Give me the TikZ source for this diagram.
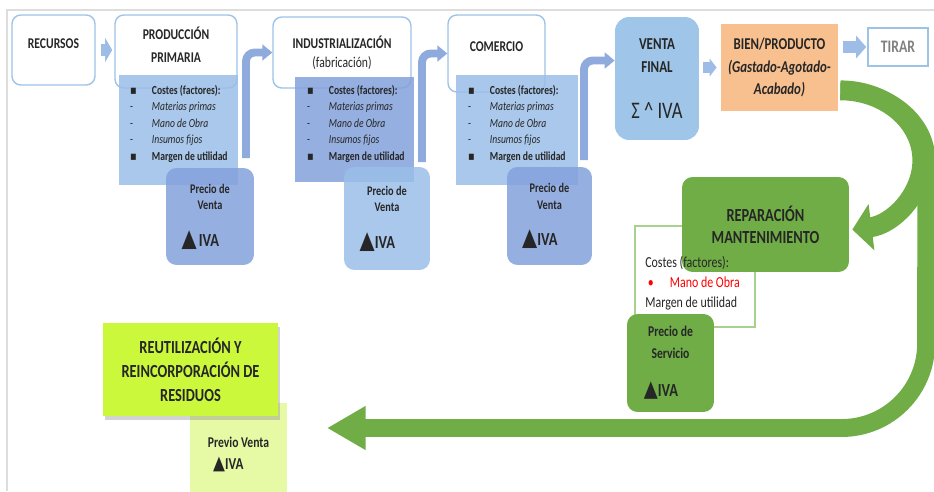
\documentclass[tikz,border=0pt]{standalone}
\usepackage{fontspec}
\setmainfont{Carlito}[FakeStretch=0.78]
\newfontfamily\symfont{DejaVu Sans}[FakeStretch=0.8]
\usepackage{tikz}
\usetikzlibrary{arrows.meta,calc,shadows}
\definecolor{HdrBorder}{HTML}{9DC3E6}
\definecolor{BlueLight}{HTML}{9BBEE7}
\definecolor{BlueMid}{HTML}{83A1DC}
\definecolor{BlueArrow}{HTML}{8FAADC}
\definecolor{BlueSmall}{HTML}{9DBCE6}
\definecolor{VentaFill}{HTML}{9FC5E8}
\definecolor{BienFill}{HTML}{F8C08F}
\definecolor{GreenMain}{HTML}{70AD47}
\definecolor{GreenSoft}{HTML}{A9D18E}
\definecolor{LimeStrong}{HTML}{CCF83C}
\definecolor{LimeSoft}{HTML}{E6FAA5}
\definecolor{TextDark}{HTML}{262626}
\definecolor{FrameGray}{HTML}{DDDDDD}
\newcommand{\ivamark}[1]{{\symfont\fontsize{#1}{#1}\selectfont ▲}}
\newcommand{\sqmark}{{\symfont ▪}}
\newcommand{\costitems}{%
    \makebox[12.5pt][l]{\sqmark}\textbf{Costes (factores):}\\
    \makebox[12.5pt][l]{-}\textit{Materias primas}\\
    \makebox[12.5pt][l]{-}\textit{Mano de Obra}\\
    \makebox[12.5pt][l]{-}\textit{Insumos fijos}\\
    \makebox[12.5pt][l]{\sqmark}\textbf{Margen de utilidad}}

\begin{document}
\begin{tikzpicture}[
        x=0.02cm, y=0.02cm,
        font=\fontsize{8.5}{13}\selectfont\bfseries,
        text=TextDark,
        header/.style={
            draw=HdrBorder,
            line width=0.8pt,
            fill=white,
            rounded corners=5pt,
            align=center,
            inner sep=2pt
        },
        costbox/.style={fill=#1, fill opacity=0.85, inner sep=0pt},
        costtext/.style={anchor=north west, inner sep=0pt, align=left,
            font=\fontsize{7}{9.4}\selectfont\mdseries},
        precio/.style={fill=#1, fill opacity=0.85, text opacity=1,
            rounded corners=6pt, align=center,
            font=\fontsize{7.5}{9.6}\selectfont\bfseries},
        blockarrow/.style={draw=BlueSmall, line width=#1},
        bentarrow/.style={draw=BlueArrow, line width=4.5pt, rounded corners=5pt,
            -{Triangle[length=5.7pt, width=9pt]}},
        greenband/.style={draw=GreenMain, line width=#1}
    ]
    \useasboundingbox (0,0) rectangle (934,-491);
    \draw[FrameGray, line width=0.6pt] (7,-491) |- (934,-10);

    % header boxes
    \node[header, minimum width=1.66cm, minimum height=1.40cm, text depth=6.8pt] (recursos) at (53.5,-50) {RECURSOS};
    \node[header, minimum width=2.44cm, minimum height=1.46cm, text depth=7.4pt] (prodprim) at (176,-51.5)
        {PRODUCCIÓN\\PRIMARIA};
    \node[header, minimum width=2.76cm, minimum height=1.42cm, font=\fontsize{8.5}{10.8}\selectfont\bfseries] (indus) at (342,-52.5)
        {INDUSTRIALIZACIÓN\\{\mdseries(fabricación)}};
    \node[header, minimum width=1.94cm, minimum height=1.54cm, text depth=7.4pt] (comercio) at (496.5,-53.5) {COMERCIO};

    % cost boxes
    \node[costbox=BlueLight, minimum width=2.38cm, minimum height=2.20cm] (cost1) at (178.5,-130) {};
    \node[costbox=BlueMid, minimum width=2.38cm, minimum height=2.10cm] (cost2) at (354.5,-129.5) {};
    \node[costbox=BlueLight, minimum width=2.44cm, minimum height=2.20cm] (cost3) at (517,-130) {};
    \node[costtext] (list1) at ($(cost1.north west)+(11,-10)$) {\costitems};
    \node[costtext] (list2) at ($(cost2.north west)+(12,-8)$) {\costitems};
    \node[costtext] (list3) at ($(cost3.north west)+(12,-10)$) {\costitems};

    % sale price boxes
    \node[precio=BlueMid, minimum width=1.76cm, minimum height=1.94cm] (precio1) at (210,-216.5)
        {Precio de\\Venta\\[11pt]\ivamark{14}\,{\fontsize{10.5}{12}\selectfont IVA}\kern11pt};
    \node[precio=BlueLight, minimum width=1.72cm, minimum height=2.06cm] (precio2) at (387,-218.5)
        {Precio de\\Venta\\[11pt]\ivamark{14}{\fontsize{10.5}{12}\selectfont IVA}\kern11pt};
    \node[precio=BlueMid, minimum width=1.70cm, minimum height=1.96cm] (precio3) at (549.5,-216)
        {Precio de\\Venta\\[11pt]\ivamark{14}{\fontsize{10.5}{12}\selectfont IVA}\kern11pt};

    \node[fill=VentaFill, rounded corners=8pt, minimum width=1.68cm, minimum height=2.46cm, align=center,
        font=\fontsize{9.5}{13}\selectfont\bfseries] (venta) at (657,-78.5)
        {VENTA\\FINAL\\[13pt]{\mdseries\fontsize{13.5}{13.5}\selectfont Σ \textasciicircum{} IVA}};
    \node[fill=BienFill, minimum width=2.34cm, minimum height=1.74cm, align=center,
        font=\fontsize{9.4}{12.8}\selectfont\bfseries] (bien) at (779.5,-67.5)
        {BIEN/PRODUCTO\\\textit{(Gastado-Agotado-}\\\textit{Acabado)}};
    \node[draw=HdrBorder, line width=0.8pt, minimum width=1.2cm, minimum height=0.76cm, text=gray,
        font=\fontsize{10}{12}\selectfont\bfseries] (tirar) at (898,-47) {TIRAR};

    % flow arrows
    \draw[blockarrow=7pt, -{Triangle[length=4pt, width=13.5pt]}, shorten <=2.8pt, shorten >=1.2pt]
        (recursos.east) -- (recursos.east -| prodprim.west);
    \draw[blockarrow=5.7pt, -{Triangle[length=4pt, width=10pt]}, shorten <=2.3pt, shorten >=2.3pt]
        (venta.east |- bien.west) -- (bien.west);
    \draw[blockarrow=6.8pt, -{Triangle[length=5.7pt, width=12.5pt]}, shorten <=2.8pt, shorten >=0.6pt]
        (bien.east |- tirar.west) -- (tirar.west);

    \coordinate (up1) at (246,-158);
    \coordinate (up2) at (422,-162);
    \coordinate (up3) at (584,-160);
    \draw[bentarrow] (up1) |- (indus.west);
    \draw[bentarrow] (up2) |- (comercio.west);
    \draw[bentarrow] (up3) |- ($(venta.west)+(0,18)$);

    % repair branch
    \node[draw=GreenSoft, line width=0.6pt, fill=white, minimum width=2.40cm, minimum height=2.02cm] (servcost) at (695,-276.5) {};
    \node[fill=GreenMain, rounded corners=6pt, minimum width=3.34cm, minimum height=1.90cm, align=center,
        font=\fontsize{10.5}{12.5}\selectfont\bfseries] (repar) at (765.5,-224.5) {REPARACIÓN\\MANTENIMIENTO};
    \node[anchor=north west, inner sep=0pt, align=left, font=\fontsize{8.7}{11.3}\selectfont\mdseries] (servtext) at (645,-256)
        {Costes (factores):\\\makebox[14pt][l]{\hspace{1.5pt}\textcolor{red}{•}}\textcolor{red}{Mano de Obra}\\Margen de utilidad};
    \node[fill=GreenMain, rounded corners=6pt, minimum width=1.74cm, minimum height=1.96cm, align=center,
        font=\fontsize{8.5}{12}\selectfont\bfseries] (servprecio) at (670.5,-363)
        {Precio de\\Servicio\\[10pt]\ivamark{13}{\fontsize{10.5}{12}\selectfont IVA}\kern10.8pt};

    % reuse branch
    \node[fill=LimeSoft, minimum width=1.94cm, minimum height=2.04cm, align=left,
        font=\fontsize{8.5}{12.5}\selectfont\bfseries] (previo) at (238.5,-454)
        {Previo Venta\\\hspace*{3pt}\ivamark{11}{\fontsize{9.5}{11}\selectfont IVA}};
    \node[fill=LimeStrong, drop shadow={shadow xshift=1pt, shadow yshift=-2pt, opacity=0.35},
        minimum width=3.5cm, minimum height=1.86cm, align=center,
        font=\fontsize{10.5}{13.6}\selectfont\bfseries] (reutil) at (190.5,-369.5)
        {REUTILIZACIÓN Y\\REINCORPORACIÓN DE\\RESIDUOS};

    % green return arrows
    \coordinate (gstart) at ($(bien.south east)+(2,21)$);
    \coordinate (gturn) at (926,-428);
    \coordinate (gtip) at (327,-428);
    \draw[greenband=10.2pt, -{Triangle[length=22pt, width=23.5pt]}]
        (gstart) arc[start angle=90, end angle=0, x radius=86, y radius=70]
        [rounded corners=48pt] -- (gturn) -- (gtip);
    \draw[greenband=11.3pt, -{Triangle[length=11pt, width=26pt]}]
        (gstart) arc[start angle=90, end angle=-81.6, x radius=82, y radius=70];
\end{tikzpicture}
\end{document}
